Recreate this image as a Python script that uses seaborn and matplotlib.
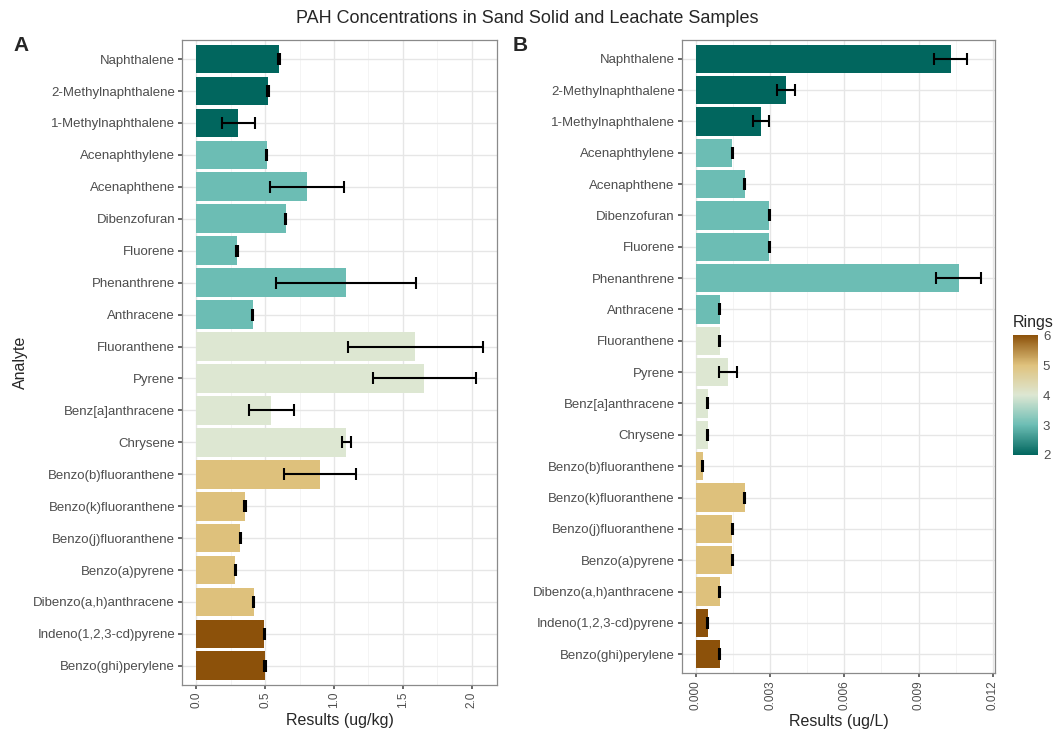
import numpy as np
import matplotlib
matplotlib.use('Agg')
import matplotlib.pyplot as plt
import seaborn as sns
from matplotlib.colors import LinearSegmentedColormap, Normalize
from matplotlib.cm import ScalarMappable

analytes = ['Naphthalene', '2-Methylnaphthalene', '1-Methylnaphthalene', 'Acenaphthylene',
            'Acenaphthene', 'Dibenzofuran', 'Fluorene', 'Phenanthrene', 'Anthracene',
            'Fluoranthene', 'Pyrene', 'Benz[a]anthracene', 'Chrysene', 'Benzo(b)fluoranthene',
            'Benzo(k)fluoranthene', 'Benzo(j)fluoranthene', 'Benzo(a)pyrene',
            'Dibenzo(a,h)anthracene', 'Indeno(1,2,3-cd)pyrene', 'Benzo(ghi)perylene']
rings = [2, 2, 2, 3, 3, 3, 3, 3, 3, 4, 4, 4, 4, 5, 5, 5, 5, 5, 6, 6]

solid = [0.60, 0.52, 0.305, 0.51, 0.806, 0.65, 0.295, 1.088, 0.41,
         1.59, 1.655, 0.546, 1.09, 0.90, 0.354, 0.32, 0.284, 0.417, 0.494, 0.499]
solid_err = [0.005, 0.005, 0.12, 0.005, 0.27, 0.005, 0.005, 0.51, 0.005,
             0.49, 0.375, 0.16, 0.035, 0.26, 0.005, 0.005, 0.005, 0.005, 0.005, 0.005]

leach = [0.01031, 0.003636, 0.00263, 0.00147, 0.00197, 0.00296, 0.00296, 0.01062, 0.00097,
         0.00097, 0.0013, 0.00047, 0.00047, 0.00027, 0.00197, 0.00147, 0.00147, 0.00097,
         0.00047, 0.00097]
leach_err = [0.00067, 0.00035, 0.00034, 0.00002, 0.00002, 0.00002, 0.00002, 0.0009, 0.00002,
             0.00002, 0.00035, 0.00002, 0.00002, 0.00002, 0.00002, 0.00002, 0.00002, 0.00002,
             0.00002, 0.00002]

ring_cmap = LinearSegmentedColormap.from_list(
    'rings', ['#01665E', '#6CBDB4', '#DDE7D3', '#DFC27D', '#8C510A'])
norm = Normalize(2, 6)
bar_colors = [ring_cmap(norm(r)) for r in rings]

sns.set_theme(style='whitegrid')
plt.rcParams['font.family'] = ['Liberation Sans', 'DejaVu Sans']

fig = plt.figure(figsize=(10.55, 7.36), dpi=100)
ax_a = fig.add_axes([0.1725, 0.0693, 0.2986, 0.8764])
ax_b = fig.add_axes([0.6462, 0.0856, 0.2970, 0.8601])


def draw_panel(ax, vals, errs, ticks, fmt, xlabel, ylabel):
    sns.barplot(x=vals, y=analytes, hue=analytes, palette=bar_colors, legend=False,
                orient='h', width=0.9, ax=ax, saturation=1, linewidth=0)
    ax.errorbar(vals, np.arange(len(analytes)), xerr=errs, fmt='none', ecolor='black',
                elinewidth=1.5, capsize=4, capthick=1.5, zorder=5)
    hi = max(v + e for v, e in zip(vals, errs))
    pad = 0.05 * hi
    ax.set_xlim(-pad, hi + pad)
    ax.set_ylim(len(analytes) - 0.4, -0.6)
    ax.set_xticks(ticks)
    ax.set_xticklabels([fmt.format(t) for t in ticks], rotation=90)
    minors = [(ticks[i] + ticks[i + 1]) / 2 for i in range(len(ticks) - 1)]
    ax.set_xticks(minors, minor=True)
    ax.set_axisbelow(True)
    ax.grid(True, which='major', color='#E6E6E6', linewidth=1.0)
    ax.grid(True, which='minor', axis='x', color='#F2F2F2', linewidth=0.6)
    ax.set_facecolor('white')
    for s in ax.spines.values():
        s.set_color('#8A8A8A')
        s.set_linewidth(0.9)
    ax.tick_params(axis='y', which='major', labelsize=9.5, labelcolor='#4D4D4D',
                   length=3, color='#555555', left=True, pad=2)
    ax.tick_params(axis='x', which='major', labelsize=8.5, labelcolor='#4D4D4D',
                   length=3, color='#555555', bottom=True, pad=2)
    ax.tick_params(axis='x', which='minor', length=0)
    ax.set_xlabel(xlabel, fontsize=11.5, labelpad=3)
    ax.set_ylabel(ylabel, fontsize=11.5)


draw_panel(ax_a, solid, solid_err, [0.0, 0.5, 1.0, 1.5, 2.0], '{:.1f}', 'Results (ug/kg)', 'Analyte')
draw_panel(ax_b, leach, leach_err, [0.0, 0.003, 0.006, 0.009, 0.012], '{:.3f}', 'Results (ug/L)', '')

fig.text(0.5, 0.975, 'PAH Concentrations in Sand Solid and Leachate Samples',
         ha='center', va='center', fontsize=13)
fig.text(0.020, 0.938, 'A', fontsize=15, fontweight='bold', ha='center', va='center')
fig.text(0.493, 0.938, 'B', fontsize=15, fontweight='bold', ha='center', va='center')

cax = fig.add_axes([0.9602, 0.3818, 0.0237, 0.163])
sm = ScalarMappable(norm=norm, cmap=ring_cmap)
cb = fig.colorbar(sm, cax=cax, ticks=[2, 3, 4, 5, 6])
cb.outline.set_visible(False)
cb.ax.tick_params(labelsize=9.5, labelcolor='#4D4D4D', length=3, color='white', direction='in')
cax.set_title('Rings', fontsize=11.5, loc='left', pad=6)

fig.savefig('out.png', dpi=100)
